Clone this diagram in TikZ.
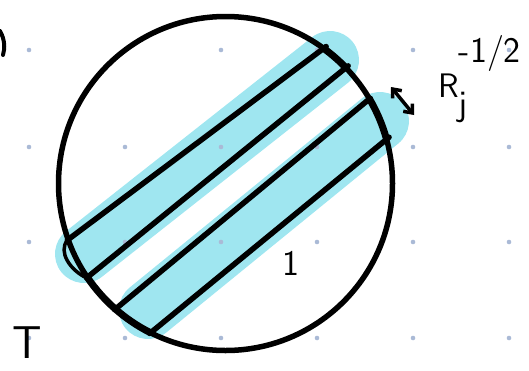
\documentclass[tikz,border=0pt]{standalone}
\usepackage{fontspec}
\usepackage{tikz}
\usetikzlibrary{arrows.meta}
\definecolor{tube}{RGB}{159,230,240}
\definecolor{griddot}{RGB}{170,186,214}

\begin{document}
\begin{tikzpicture}[x=1pt,y=-1pt,>={Straight Barb[length=7pt,width=12pt]},
 rim/.style={line width=5.5pt},
 edge/.style={line width=5.5pt,line cap=round},
 band/.style={line width=58pt,line cap=round,color=tube},
 hand/.style={font=\sffamily\fontsize{#1}{#1}\selectfont,inner sep=0pt}]
\useasboundingbox (0,0) rectangle (529,370);
\coordinate (o) at (225.5,183.5);
\path (o) +(160.3:168) coordinate (u1l) +(-53.7:170) coordinate (u1r)
          +(145.8:168) coordinate (u2l) +(-43.8:170) coordinate (u2r)
          +(131.3:168) coordinate (w1l) +(-30.5:168) coordinate (w1r)
          +(116.8:168) coordinate (w2l) +(-15.8:170) coordinate (w2r);
\draw[band] (84,254) -- (330,60);
\draw[band] (148,310) -- (380,121);
\foreach \x in {29,125,...,509}
  \foreach \y in {50,147,242,338}
    \fill[griddot] (\x,\y) circle[radius=2.3];
\draw[rim] (o) circle[radius=167];
\draw[edge] (u1l) -- (u1r);
\draw[edge] (u2l) -- (u2r);
\draw[edge] (w1l) -- (w1r);
\draw[edge] (w2l) -- (w2r);
\draw[rim,line width=7pt] (o) ++(116.8:167) arc[start angle=116.8,end angle=145.8,radius=167];
\draw[rim,line width=7pt] (o) ++(-53.7:167) arc[start angle=-53.7,end angle=-43.8,radius=167];
\draw[rim,line width=7pt] (o) ++(-30.5:167) arc[start angle=-30.5,end angle=-15.8,radius=167];
\draw[line width=3.5pt,line cap=round] (u1l) .. controls (58,252) and (70,270) .. (u2l);
\draw[line width=4pt,line cap=round] (0,31) .. controls (5,40) and (5,48) .. (3,55);
\coordinate (wtop) at (391,87);
\coordinate (wbot) at (414,115);
\draw[<->,line width=3.5pt,line cap=round] (wtop) -- (wbot);
\node[hand=34,anchor=base west] (lblR) at (438,97)
  {R\rlap{\raisebox{-18pt}{\fontsize{36}{36}\selectfont j}}\raisebox{35pt}{\fontsize{36}{36}\selectfont -1/2}};
\node[hand=36,anchor=base] (lblone) at (291,275) {1};
\node[hand=46,anchor=base] (lblT) at (27,358) {T};
\end{tikzpicture}
\end{document}
